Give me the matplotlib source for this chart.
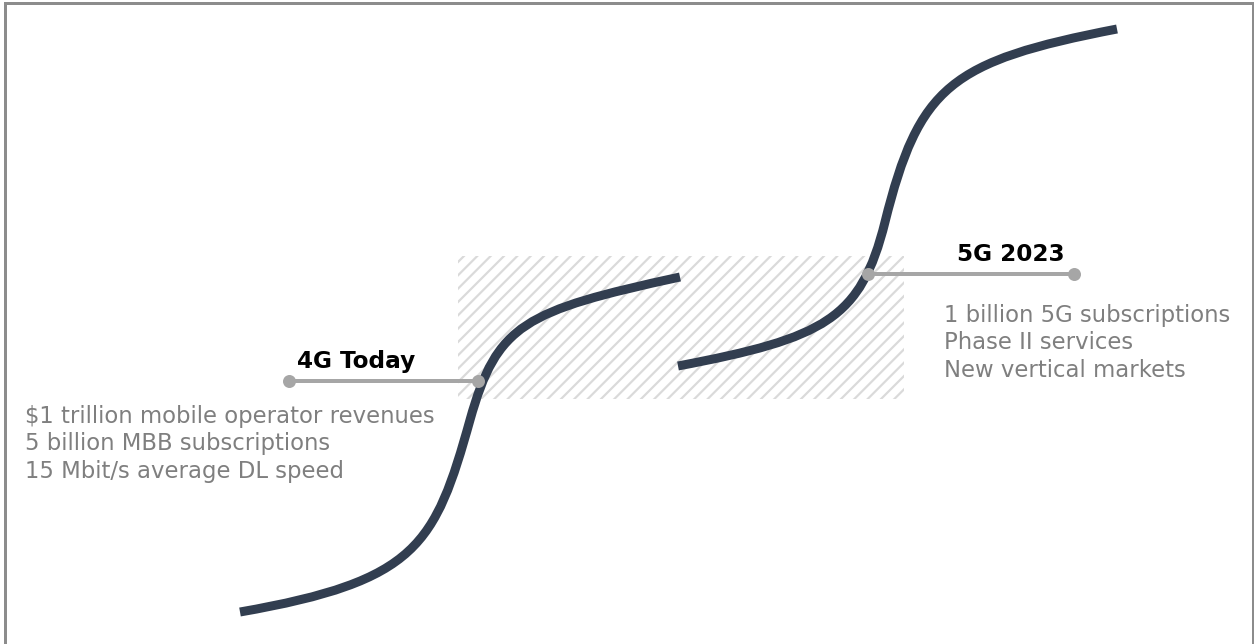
import matplotlib as mpl
import matplotlib.pyplot as plt
from matplotlib.patches import Rectangle, PathPatch
from matplotlib.path import Path

# canvas in pixels, dpi picked so that the '///' hatch spacing matches the picture
W, H = 1254, 644
DPI = 120
PT = 72. / DPI  # points per pixel

# s-curves as cubic bezier anchor/control points (pixels, y down)
curve_4g_x = [240, 417.3, 434.9, 470, 497, 523.7, 680]
curve_4g_y = [612, 581, 545.2, 420, 324, 310.9, 277]
curve_5g_x = [678, 825.3, 860.7, 885, 919, 950, 1117]
curve_5g_y = [366, 338, 319, 222, 86.2, 61.3, 29]

# annotation leaders and texts
lead_4g_x = [289, 478]
lead_4g_y = [381, 381]
lead_5g_x = [868, 1074]
lead_5g_y = [274, 274]
title_4g = '4G Today'
title_5g = '5G 2023'
lines_4g = ['$1 trillion mobile operator revenues',
            '5 billion MBB subscriptions',
            '15 Mbit/s average DL speed']
lines_5g = ['1 billion 5G subscriptions',
            'Phase II services',
            'New vertical markets']

# transition box
box_x0, box_x1 = 458, 904
box_y0, box_y1 = 256, 399

mpl.rcParams['hatch.linewidth'] = 2.2 * PT

fig = plt.figure(figsize=(W / DPI, H / DPI), dpi=DPI)
ax = fig.add_axes([0, 0, 1, 1])
ax.set_xlim(0, W)
ax.set_ylim(H, 0)
ax.axis('off')

# border
ax.plot([4.5, 4.5, 1252.5, 1252.5], [H + 5, 3, 3, H + 5], color='#8c8c8c', lw=3 * PT,
        solid_joinstyle='miter', zorder=1)

# hatched transition region
ax.add_patch(Rectangle((box_x0, box_y0), box_x1 - box_x0, box_y1 - box_y0,
                       facecolor='white', edgecolor='#dadada', hatch='///', lw=0, zorder=1))

navy = '#323e50'
codes = [Path.MOVETO] + [Path.CURVE4] * 6
for cx, cy in [(curve_4g_x, curve_4g_y), (curve_5g_x, curve_5g_y)]:
    path = Path(list(zip(cx, cy)), codes)
    ax.add_patch(PathPatch(path, facecolor='none', edgecolor=navy, lw=9 * PT,
                           capstyle='butt', zorder=3))

grey = '#a6a6a6'
for lx, ly in [(lead_4g_x, lead_4g_y), (lead_5g_x, lead_5g_y)]:
    ax.plot(lx, ly, color=grey, lw=4 * PT, zorder=4)
    ax.plot(lx, ly, 'o', color=grey, ms=13 * PT, mew=0, zorder=5)

ax.text(356, 361, title_4g, fontsize=23.2 * PT, fontweight='bold', color='black',
        ha='center', va='center', zorder=6)
ax.text(1011, 254, title_5g, fontsize=23.2 * PT, fontweight='bold', color='black',
        ha='center', va='center', zorder=6)

text_grey = '#7f7f7f'
for i, s in enumerate(lines_4g):
    ax.text(25, 416 + 27.5 * i, s, fontsize=22.8 * PT, color=text_grey,
            ha='left', va='center', parse_math=False, zorder=6)
for i, s in enumerate(lines_5g):
    ax.text(944, 315 + 27.5 * i, s, fontsize=22.8 * PT, color=text_grey,
            ha='left', va='center', parse_math=False, zorder=6)

fig.savefig('out.png', dpi=DPI)
